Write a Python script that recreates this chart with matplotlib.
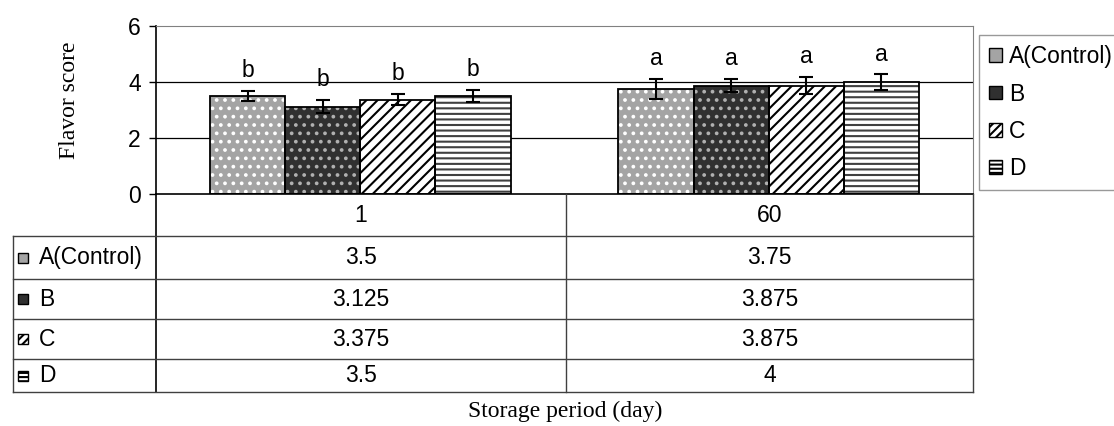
import numpy as np
import matplotlib
matplotlib.use("Agg")
import matplotlib.pyplot as plt
from matplotlib.patches import Rectangle, Patch

plt.rcParams['font.family'] = 'Liberation Sans'
plt.rcParams['hatch.linewidth'] = 1.5

# data
days = ['1', '60']
groups = ['A(Control)', 'B', 'C', 'D']
score_a = [3.5, 3.75]
score_b = [3.125, 3.875]
score_c = [3.375, 3.875]
score_d = [3.5, 4]
err_a = [0.17, 0.37]
err_b = [0.22, 0.24]
err_c = [0.2, 0.3]
err_d = [0.21, 0.27]
letters = ['b', 'a']

scores = [score_a, score_b, score_c, score_d]
errs = [err_a, err_b, err_c, err_d]

# look of each series: fill, hatch, hatch colour
fills = ['#a4a4a4', '#303030', 'white', 'white']
hatches = ['..', '..', '///', '---']
hcols = ['white', '#b0b0b0', 'black', '#404040']
key_hatches = [None, None, '////', '----']

W, H = 1114, 426
FS = 16.5
serif = 'Liberation Serif'

fig = plt.figure(figsize=(W / 100, H / 100), dpi=100)
ax = fig.add_axes([156 / W, 1 - 194 / H, (973 - 156) / W, (194 - 26) / H])

x = np.arange(len(days))
bw = 0.184
for i, g in enumerate(groups):
    pos = x + (i - 1.5) * bw
    ax.bar(pos, scores[i], bw, color=fills[i], edgecolor='none', zorder=2)
    ax.bar(pos, scores[i], bw, color='none', edgecolor=hcols[i], linewidth=0,
           hatch=hatches[i], zorder=2)
    ax.bar(pos, scores[i], bw, color='none', edgecolor='black', linewidth=1.3, zorder=3)
    ax.errorbar(pos, scores[i], yerr=errs[i], fmt='none', ecolor='black',
                elinewidth=1.5, capsize=5, capthick=1.5, zorder=4)
    for j in range(len(days)):
        ax.annotate(letters[j], (pos[j], scores[i][j] + errs[i][j]),
                    xytext=(0, 10), textcoords='offset points',
                    ha='center', va='baseline', fontsize=FS)

ax.set_xlim(-0.5, len(days) - 0.5)
ax.set_ylim(0, 6)
ax.set_yticks([0, 2, 4, 6])
ax.set_xticks([])
ax.tick_params(axis='y', direction='out', length=5, width=1, labelsize=FS, pad=6)
for yv in [2, 4]:
    ax.axhline(yv, color='black', lw=0.9, zorder=1)
ax.spines['top'].set_color('#808080')
ax.spines['right'].set_color('#808080')
ax.spines['left'].set_linewidth(1.2)
ax.spines['bottom'].set_linewidth(1.2)
ax.set_ylabel('Flavor score', fontfamily=serif, fontsize=17)
ax.yaxis.set_label_coords(-(156 - 80) / (973 - 156), (194 - 100) / (194 - 26))

# data table below the plot
tab = fig.add_axes([0, 0, 1, 1])
tab.set_xlim(0, W)
tab.set_ylim(H, 0)
tab.axis('off')
rows = [194, 236, 279, 319, 359, 392]
cols = [13, 156, 566, 973]
lc = '#404040'
tab.plot([cols[1], cols[1]], [rows[0], rows[-1]], color='black', lw=1.2)
tab.plot([cols[2], cols[2]], [rows[0], rows[-1]], color=lc, lw=1)
tab.plot([cols[3], cols[3]], [rows[0], rows[-1]], color=lc, lw=1)
tab.plot([cols[0], cols[0]], [rows[1], rows[-1]], color=lc, lw=1)
for r in rows[1:]:
    tab.plot([cols[0], cols[3]], [r, r], color=lc, lw=1)
for j, d in enumerate(days):
    tab.text((cols[j + 1] + cols[j + 2]) / 2, (rows[0] + rows[1]) / 2, d,
             ha='center', va='center', fontsize=FS)
for i, g in enumerate(groups):
    yc = (rows[i + 1] + rows[i + 2]) / 2
    tab.add_patch(Rectangle((18, yc - 5), 10, 10, facecolor=fills[i],
                            edgecolor='black', lw=1, hatch=key_hatches[i]))
    tab.text(39, yc, g, ha='left', va='center', fontsize=FS)
    for j in range(len(days)):
        tab.text((cols[j + 1] + cols[j + 2]) / 2, yc, f'{scores[i][j]:g}',
                 ha='center', va='center', fontsize=FS)

fig.text(565 / W, 1 - 411 / H, 'Storage period (day)', ha='center', va='center',
         fontfamily=serif, fontsize=17)

# legend on the right
handles = [Patch(facecolor=fills[i], edgecolor='black', hatch=key_hatches[i])
           for i in range(len(groups))]
leg = fig.legend(handles, groups, loc='upper left', bbox_to_anchor=(979 / W, 1 - 35 / H),
                 borderaxespad=0, fontsize=FS, handlelength=0.55, handleheight=0.55,
                 handletextpad=0.3, labelspacing=0.62, borderpad=0.45,
                 fancybox=False, edgecolor='#808080')
leg.get_frame().set_linewidth(1)

fig.savefig('out.png', dpi=100)
